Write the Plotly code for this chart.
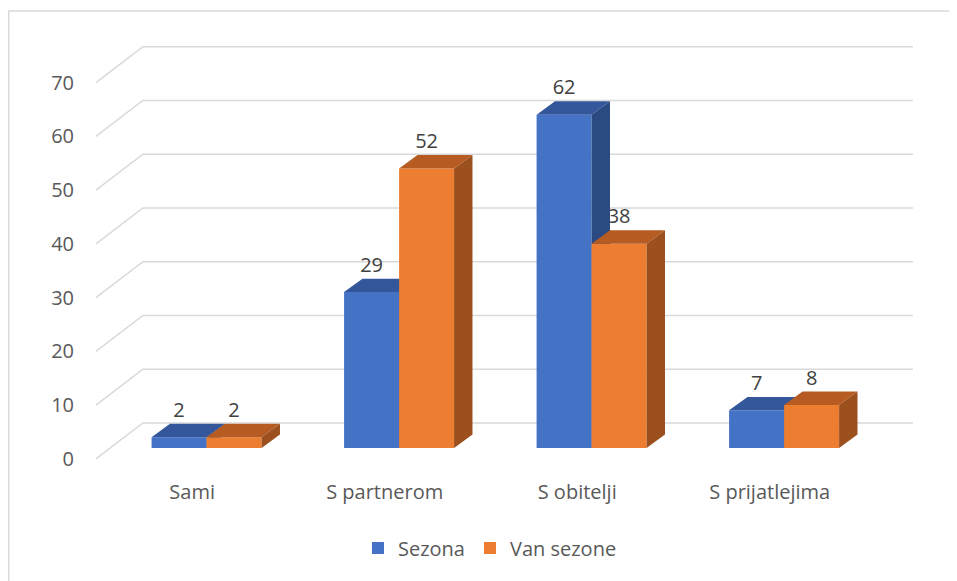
import plotly.graph_objects as go

# ─── Data ───────────────────────────────────────────────────────────────────────

CATEGORIES = ["Sami", "S partnerom", "S obitelji", "S prijatlejima"]
SEZONA = [2, 29, 62, 7]
VAN_SEZONE = [2, 52, 38, 8]
Y_TICKS = [0, 10, 20, 30, 40, 50, 60, 70]

# ─── Style ──────────────────────────────────────────────────────────────────────

COLORS = {
    "blue": "#4472C4",
    "blue_top": "#34569A",
    "blue_side": "#2B4A82",
    "orange": "#ED7D31",
    "orange_top": "#B65C22",
    "orange_side": "#9B501E",
    "grid": "#D9D9D9",
    "tick": "#595959",
    "label": "#404040",
}
FONT = "Open Sans, Arial, sans-serif"

# page body has an 8px margin, so the figure is 8px smaller than the window
BODY = 8
W, H = 957 - BODY, 581 - BODY
M_L, M_R, M_T, M_B = 94 - BODY, 41, 45 - BODY, 121
X_RANGE = [-0.51, 3.76]
Y_RANGE = [-0.2, 77.0]

plot_w = W - M_L - M_R
plot_h = H - M_T - M_B
px_x = plot_w / (X_RANGE[1] - X_RANGE[0])
px_y = plot_h / (Y_RANGE[1] - Y_RANGE[0])


def ux(px):
    return px / px_x


def uy(px):
    return px / px_y


# oblique projection offsets (pixels -> data units)
WALL_DX, WALL_DY = ux(47), uy(36)      # floor depth
BAR_SX, BAR_SY = ux(14.4), uy(11)      # bar front face inset
BAR_DX, BAR_DY = ux(18.4), uy(13.4)    # bar depth
BAR_W = ux(55)
LABEL_GAP = uy(12)

idx = list(range(len(CATEGORIES)))

fig = go.Figure()

# ─── Back wall gridlines ────────────────────────────────────────────────────────

gx, gy = [], []
x_left, x_right = -0.5, len(CATEGORIES) - 0.5
for v in Y_TICKS:
    gx += [x_left, x_left + WALL_DX, x_right + WALL_DX, None]
    gy += [v, v + WALL_DY, v + WALL_DY, None]
fig.add_trace(go.Scatter(
    x=gx, y=gy, mode="lines",
    line=dict(color=COLORS["grid"], width=1.5),
    hoverinfo="skip", showlegend=False, zorder=0,
))


# ─── Bars with top and side faces ───────────────────────────────────────────────

def faces(values, x_off):
    tx, ty, sx, sy = [], [], [], []
    for i, v in zip(idx, values):
        xl = i + BAR_SX + x_off
        xr = xl + BAR_W
        yb = BAR_SY
        yt = BAR_SY + v
        tx += [xl, xr, xr + BAR_DX, xl + BAR_DX, xl, None]
        ty += [yt, yt, yt + BAR_DY, yt + BAR_DY, yt, None]
        sx += [xr, xr, xr + BAR_DX, xr + BAR_DX, xr, None]
        sy += [yb, yt, yt + BAR_DY, yb + BAR_DY, yb, None]
    return tx, ty, sx, sy


series = [
    ("Sezona", SEZONA, -BAR_W, "blue", 2),
    ("Van sezone", VAN_SEZONE, 0.0, "orange", 5),
]

lab_x, lab_y, lab_t = [], [], []
for name, values, x_off, key, z in series:
    fig.add_trace(go.Bar(
        x=idx, y=values, base=BAR_SY,
        offset=BAR_SX + x_off, width=BAR_W,
        name=name, marker=dict(color=COLORS[key], line=dict(width=0)),
        hovertemplate=f"<b>%{{customdata}}</b><br>{name}: %{{y}}<extra></extra>",
        customdata=CATEGORIES, zorder=z,
    ))
    tx, ty, sx, sy = faces(values, x_off)
    fig.add_trace(go.Scatter(
        x=tx, y=ty, mode="lines", fill="toself",
        fillcolor=COLORS[key + "_top"], line=dict(width=0),
        hoverinfo="skip", showlegend=False, zorder=z + 1,
    ))
    fig.add_trace(go.Scatter(
        x=sx, y=sy, mode="lines", fill="toself",
        fillcolor=COLORS[key + "_side"], line=dict(width=0),
        hoverinfo="skip", showlegend=False, zorder=z + 2,
    ))
    for i, v in zip(idx, values):
        lab_x.append(i + BAR_SX + x_off + BAR_W / 2)
        lab_y.append(BAR_SY + v + BAR_DY + LABEL_GAP)
        lab_t.append(str(v))

# data labels sit under the bars (the "38" is partly hidden like in Excel)
fig.add_trace(go.Scatter(
    x=lab_x, y=lab_y, text=lab_t, mode="text",
    textposition="middle center",
    textfont=dict(family=FONT, size=20, color=COLORS["label"]),
    hoverinfo="skip", showlegend=False, zorder=1,
))

# ─── Chart frame (cropped: only top and left edges visible) ─────────────────────

fx0 = (8.7 - BODY - M_L) / plot_w
fy1 = (H - M_B - (11 - BODY)) / plot_h
fig.add_shape(
    type="rect", xref="paper", yref="paper",
    x0=fx0, x1=(W + 10 - M_L) / plot_w, y0=-(M_B + 10) / plot_h, y1=fy1,
    line=dict(color=COLORS["grid"], width=1.5), fillcolor="rgba(0,0,0,0)",
)

fig.update_layout(
    width=W, height=H,
    paper_bgcolor="white", plot_bgcolor="white",
    margin=dict(l=M_L, r=M_R, t=M_T, b=M_B, autoexpand=False),
    font=dict(family=FONT, size=20, color=COLORS["tick"]),
    barmode="overlay",
    showlegend=True,
    legend=dict(
        orientation="h", xref="container", yref="container",
        x=(490 - BODY) / W, xanchor="center",
        y=(581 - 548) / H, yanchor="middle",
        font=dict(family=FONT, size=20, color=COLORS["tick"]),
        traceorder="normal",
    ),
    xaxis=dict(
        range=X_RANGE, tickvals=idx, ticktext=CATEGORIES,
        showgrid=False, zeroline=False, showline=False,
        ticks="outside", ticklen=14, tickcolor="rgba(0,0,0,0)",
        tickfont=dict(family=FONT, size=20, color=COLORS["tick"]),
        fixedrange=True,
    ),
    yaxis=dict(
        range=Y_RANGE, tickvals=Y_TICKS,
        showgrid=False, zeroline=False, showline=False,
        ticks="outside", ticklen=15, tickcolor="rgba(0,0,0,0)",
        tickfont=dict(family=FONT, size=20, color=COLORS["tick"]),
        fixedrange=True,
    ),
)

fig.write_html("out.html")
